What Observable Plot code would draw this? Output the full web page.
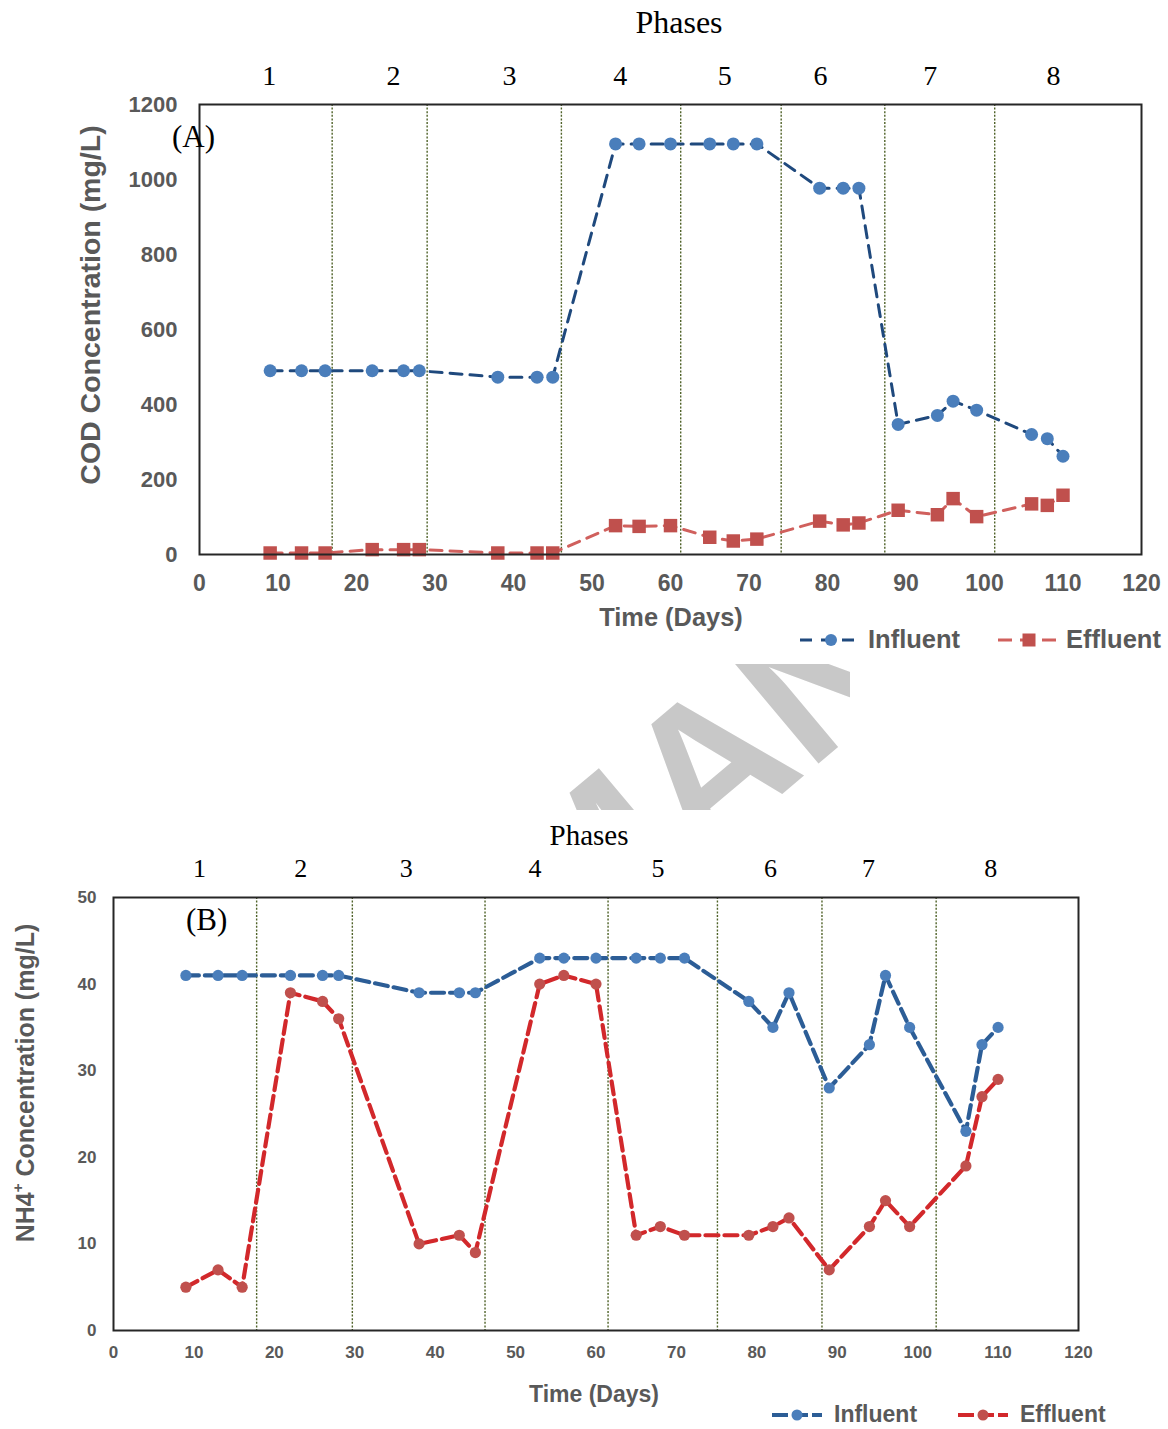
<!DOCTYPE html>
<html>
<head>
<meta charset="utf-8">
<script src="https://cdn.jsdelivr.net/npm/d3@7"></script>
<script src="https://cdn.jsdelivr.net/npm/@observablehq/plot@0.6"></script>
<style>
  html, body { margin: 0; padding: 0; background: #fff; }
  #page { position: relative; width: 1168px; height: 1429px; overflow: hidden; background: #fff; font-family: "Liberation Sans", Arial, sans-serif; }
  .abs { position: absolute; white-space: nowrap; line-height: 1; }
  .center { transform: translate(-50%, -50%); }
  .serif { font-family: "Liberation Serif", "Times New Roman", serif; color: #000; }
  .gray { color: #595959; font-weight: bold; }
  .rot { transform: translate(-50%, -50%) rotate(-90deg); }
  .legend { position: absolute; display: flex; align-items: center; white-space: nowrap; color: #595959; font-weight: bold; line-height: 1; }
  .legend svg { display: block; }
  #chartA, #chartB { position: absolute; left: 0; }
  #chartA { top: 0; }
  #chartB { top: 800px; }
  svg { overflow: visible; }
</style>
</head>
<body>
<div id="page">
  <svg class="abs" width="290" height="146" style="left:560px;top:664px;overflow:hidden">
    <text transform="translate(10,308) rotate(-40)" font-family="Liberation Sans, Arial, sans-serif" font-size="200" font-weight="bold" fill="#c8c8c8">MAN</text>
  </svg>
  <div id="chartA"></div>
  <div id="chartB"></div>
</div>
<script>
// ---- data ----
const days = [9, 13, 16, 22, 26, 28, 38, 43, 45, 53, 56, 60, 65, 68, 71, 79, 82, 84, 89, 94, 96, 99, 106, 108, 110];
const codInfluent = [490, 490, 490, 490, 490, 490, 473, 473, 473, 1095, 1095, 1095, 1095, 1095, 1095, 977, 977, 977, 347, 371, 409, 385, 320, 309, 262];
const codEffluent = [4, 4, 4, 13, 13, 13, 4, 4, 4, 77, 75, 77, 46, 36, 41, 89, 79, 84, 118, 106, 149, 101, 135, 131, 158];
const nh4Influent = [41, 41, 41, 41, 41, 41, 39, 39, 39, 43, 43, 43, 43, 43, 43, 38, 35, 39, 28, 33, 41, 35, 23, 33, 35];
const nh4Effluent = [5, 7, 5, 39, 38, 36, 10, 11, 9, 40, 41, 40, 11, 12, 11, 11, 12, 13, 7, 12, 15, 12, 19, 27, 29];

const phaseNames = ["1", "2", "3", "4", "5", "6", "7", "8"];
const phaseLabelDaysA = [8.9, 24.7, 39.5, 53.6, 66.9, 79.1, 93.1, 108.8];
const phaseBoundsA = [16.9, 29.0, 46.1, 61.3, 74.1, 87.3, 101.3];
const phaseLabelDaysB = [10.7, 23.3, 36.4, 52.4, 67.7, 81.7, 93.9, 109.1];
const phaseBoundsB = [17.8, 29.7, 46.2, 61.5, 75.1, 88.1, 102.3];

const xTicks = [0, 10, 20, 30, 40, 50, 60, 70, 80, 90, 100, 110, 120];
const yTicksA = [0, 200, 400, 600, 800, 1000, 1200];
const yTicksB = [0, 10, 20, 30, 40, 50];

const seriesNames = ["Influent", "Effluent"];

// ---- tables ----
const tableA = days.map((d, i) => ({day: d, influent: codInfluent[i], effluent: codEffluent[i]}));
const tableB = days.map((d, i) => ({day: d, influent: nh4Influent[i], effluent: nh4Effluent[i]}));
const phasesA = phaseNames.map((n, i) => ({name: n, day: phaseLabelDaysA[i]}));
const phasesB = phaseNames.map((n, i) => ({name: n, day: phaseLabelDaysB[i]}));

const phaseLine = {stroke: "#4f6228", strokeWidth: 1.4, strokeDasharray: "2,1.6"};
const axisText = {color: "#595959", fontWeight: "bold", tickFormat: d => String(d)};

// ---- chart A ----
const chartA = Plot.plot({
  width: 1168, height: 600,
  marginTop: 104, marginBottom: 46, marginLeft: 199, marginRight: 27,
  style: {fontFamily: "Liberation Sans, Arial, sans-serif", background: "transparent", overflow: "visible"},
  x: {domain: [0, 120]},
  y: {domain: [0, 1200]},
  marks: [
    Plot.ruleX(phaseBoundsA, phaseLine),
    Plot.line(tableA, {x: "day", y: "influent", stroke: "#1f497d", strokeWidth: 3, strokeDasharray: "12,8"}),
    Plot.line(tableA, {x: "day", y: "effluent", stroke: "#d0605d", strokeWidth: 3, strokeDasharray: "12,8"}),
    Plot.dot(tableA, {x: "day", y: "influent", fill: "#4a7ebb", r: 6.5}),
    Plot.dot(tableA, {x: "day", y: "effluent", fill: "#c0504d", symbol: "square", r: 7.6}),
    Plot.frame({stroke: "#262626", strokeWidth: 2}),
    Plot.axisX({ticks: xTicks, tickSize: 0, tickPadding: 20, fontSize: 23, label: null, ...axisText}),
    Plot.axisY({ticks: yTicksA, tickSize: 0, tickPadding: 22, fontSize: 22, label: null, ...axisText}),
    Plot.text(phasesA, {x: "day", text: "name", frameAnchor: "top", lineAnchor: "middle", dy: -28, fontSize: 28, fontFamily: "Liberation Serif, Times New Roman, serif", fill: "#000"})
  ]
});
document.getElementById("chartA").appendChild(chartA);

// ---- chart B ----
const chartB = Plot.plot({
  width: 1168, height: 580,
  marginTop: 97, marginBottom: 50, marginLeft: 113, marginRight: 90,
  style: {fontFamily: "Liberation Sans, Arial, sans-serif", background: "transparent", overflow: "visible"},
  x: {domain: [0, 120]},
  y: {domain: [0, 50]},
  marks: [
    Plot.ruleX(phaseBoundsB, phaseLine),
    Plot.line(tableB, {x: "day", y: "influent", stroke: "#2c5d96", strokeWidth: 4.2, strokeDasharray: "13,6"}),
    Plot.line(tableB, {x: "day", y: "effluent", stroke: "#d2282b", strokeWidth: 4.2, strokeDasharray: "13,6"}),
    Plot.dot(tableB, {x: "day", y: "influent", fill: "#4a7ebb", r: 5.6}),
    Plot.dot(tableB, {x: "day", y: "effluent", fill: "#c0504d", r: 5.6}),
    Plot.frame({stroke: "#262626", strokeWidth: 2}),
    Plot.axisX({ticks: xTicks, tickSize: 0, tickPadding: 15, fontSize: 17, label: null, ...axisText}),
    Plot.axisY({ticks: yTicksB, tickSize: 0, tickPadding: 17, fontSize: 17, label: null, ...axisText}),
    Plot.text(phasesB, {x: "day", text: "name", frameAnchor: "top", lineAnchor: "middle", dy: -29, fontSize: 26, fontFamily: "Liberation Serif, Times New Roman, serif", fill: "#000"})
  ]
});
document.getElementById("chartB").appendChild(chartB);

// ---- HTML texts ----
const page = document.getElementById("page");
function addText(html, cls, left, top, size) {
  const d = document.createElement("div");
  d.className = "abs " + cls;
  d.style.left = left + "px";
  d.style.top = top + "px";
  d.style.fontSize = size + "px";
  d.innerHTML = html;
  page.appendChild(d);
  return d;
}
addText("Phases", "serif center", 679, 22, 32);
addText("(A)", "serif", 172, 121, 31);
addText("COD Concentration (mg/L)", "gray rot", 90, 305, 28.5);
addText("Time (Days)", "gray center", 671, 618, 25.4);

addText("Phases", "serif center", 589, 835, 29);
addText("(B)", "serif", 186, 904, 31);
addText("NH4<sup style=\"font-size:0.6em;vertical-align:0.7em\">+</sup> Concentration (mg/L)", "gray rot", 24, 1083, 25);
addText("Time (Days)", "gray center", 594, 1394, 23);

// ---- legends ----
function legendSwatch(w, lineColor, lineW, dash, markerColor, shape, size) {
  const ns = "http://www.w3.org/2000/svg";
  const s = document.createElementNS(ns, "svg");
  s.setAttribute("width", w); s.setAttribute("height", 20);
  const l = document.createElementNS(ns, "line");
  l.setAttribute("x1", 0); l.setAttribute("x2", w); l.setAttribute("y1", 10); l.setAttribute("y2", 10);
  l.setAttribute("stroke", lineColor); l.setAttribute("stroke-width", lineW); l.setAttribute("stroke-dasharray", dash);
  s.appendChild(l);
  let m;
  if (shape === "square") {
    m = document.createElementNS(ns, "rect");
    m.setAttribute("x", w / 2 - size / 2); m.setAttribute("y", 10 - size / 2);
    m.setAttribute("width", size); m.setAttribute("height", size);
  } else {
    m = document.createElementNS(ns, "circle");
    m.setAttribute("cx", w / 2); m.setAttribute("cy", 10); m.setAttribute("r", size / 2);
  }
  m.setAttribute("fill", markerColor);
  s.appendChild(m);
  return s;
}
function addLegend(left, top, size, swatch, label, gap) {
  const d = document.createElement("div");
  d.className = "legend";
  d.style.left = left + "px"; d.style.top = top + "px"; d.style.fontSize = size + "px";
  d.appendChild(swatch);
  const t = document.createElement("span");
  t.style.marginLeft = gap + "px";
  t.textContent = label;
  d.appendChild(t);
  page.appendChild(d);
}
addLegend(800, 627, 25.5, legendSwatch(62, "#1f497d", 3, "12,9", "#4a7ebb", "circle", 12), seriesNames[0], 6);
addLegend(998, 627, 25.5, legendSwatch(62, "#d0605d", 3, "14,8", "#c0504d", "square", 13), seriesNames[1], 6);
addLegend(772, 1403, 23, legendSwatch(50, "#2c5d96", 4.2, "16,4", "#4a7ebb", "circle", 11), seriesNames[0], 12);
addLegend(958, 1403, 23, legendSwatch(50, "#d2282b", 4.2, "16,4", "#c0504d", "circle", 11), seriesNames[1], 12);
</script>
</body>
</html>
